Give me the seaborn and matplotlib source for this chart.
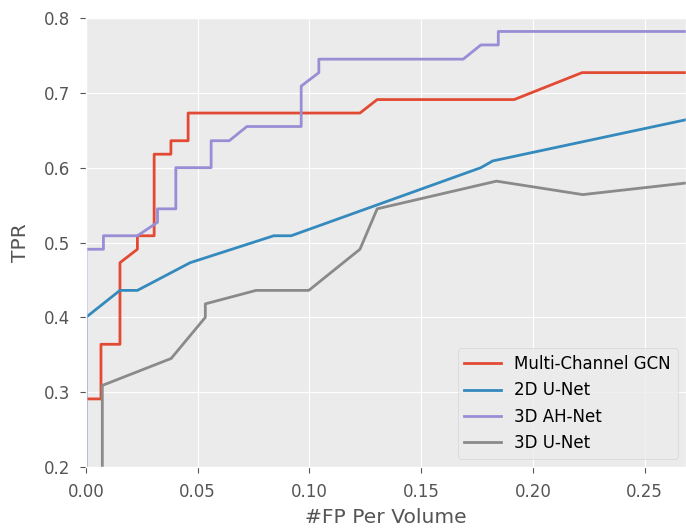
import matplotlib
matplotlib.use("Agg")
import matplotlib.pyplot as plt
import seaborn as sns
import pandas as pd

plt.style.use("ggplot")

series_names = ["Multi-Channel GCN", "2D U-Net", "3D AH-Net", "3D U-Net"]

gcn_x = [0, 0.0067, 0.0067, 0.0152, 0.0152, 0.023, 0.023, 0.0305, 0.0305, 0.038, 0.038,
         0.0457, 0.0457, 0.1226, 0.1303, 0.1916, 0.222, 0.27]
gcn_y = [0.291, 0.291, 0.364, 0.364, 0.473, 0.491, 0.509, 0.509, 0.618, 0.618, 0.636,
         0.636, 0.673, 0.673, 0.691, 0.691, 0.727, 0.727]

unet2d_x = [0, 0, 0.0152, 0.023, 0.0466, 0.084, 0.0918, 0.1767, 0.182, 0.27]
unet2d_y = [0.0, 0.4, 0.436, 0.436, 0.473, 0.509, 0.509, 0.6, 0.609, 0.665]

ahnet_x = [0, 0, 0.0078, 0.0078, 0.023, 0.032, 0.032, 0.0402, 0.0402, 0.056, 0.056,
           0.0641, 0.072, 0.0963, 0.0963, 0.1042, 0.1042, 0.1688, 0.1767, 0.1845, 0.1845, 0.27]
ahnet_y = [0.0, 0.491, 0.491, 0.509, 0.509, 0.527, 0.545, 0.545, 0.6, 0.6, 0.636,
           0.636, 0.655, 0.655, 0.709, 0.727, 0.745, 0.745, 0.764, 0.764, 0.782, 0.782]

unet3d_x = [0.0073, 0.0073, 0.0381, 0.0534, 0.0534, 0.0761, 0.0997, 0.1226, 0.1303,
            0.1837, 0.2223, 0.27]
unet3d_y = [0.0, 0.309, 0.345, 0.4, 0.418, 0.436, 0.436, 0.491, 0.545, 0.582, 0.564, 0.58]

colors = ["#E24A33", "#348ABD", "#988ED5", "#8A8A8A"]

frames = []
for name, xs, ys in zip(series_names,
                        [gcn_x, unet2d_x, ahnet_x, unet3d_x],
                        [gcn_y, unet2d_y, ahnet_y, unet3d_y]):
    frames.append(pd.DataFrame({"x": xs, "y": ys, "model": name}))
df = pd.concat(frames, ignore_index=True)

fig = plt.figure(figsize=(6.86, 5.28), dpi=100)
ax = fig.add_axes([86 / 686, 61 / 528, 600 / 686, 449 / 528])
ax.set_facecolor("#EBEBEB")

sns.lineplot(data=df, x="x", y="y", hue="model", hue_order=series_names,
             palette=colors, sort=False, estimator=None, linewidth=2, ax=ax)

ax.set_xlim(0, 0.2685)
ax.set_ylim(0.2, 0.8)
ax.set_xticks([0, 0.05, 0.10, 0.15, 0.20, 0.25])
ax.set_xticklabels(["0.00", "0.05", "0.10", "0.15", "0.20", "0.25"])
ax.set_yticks([0.2, 0.3, 0.4, 0.5, 0.6, 0.7, 0.8])
ax.set_yticklabels(["0.2", "0.3", "0.4", "0.5", "0.6", "0.7", "0.8"])
ax.tick_params(labelsize=12, colors="#555555", labelcolor="#555555", length=4.5, pad=7)
ax.set_xlabel("#FP Per Volume", fontsize=14.6, color="#555555", labelpad=5)
ax.set_ylabel("TPR", fontsize=14.6, color="#555555", labelpad=10)

leg = ax.legend(loc="lower right", fontsize=12, title=None, facecolor="#EBEBEB",
                edgecolor="#D0D0D0", handlelength=2.2)

fig.savefig("out.png", dpi=100)
